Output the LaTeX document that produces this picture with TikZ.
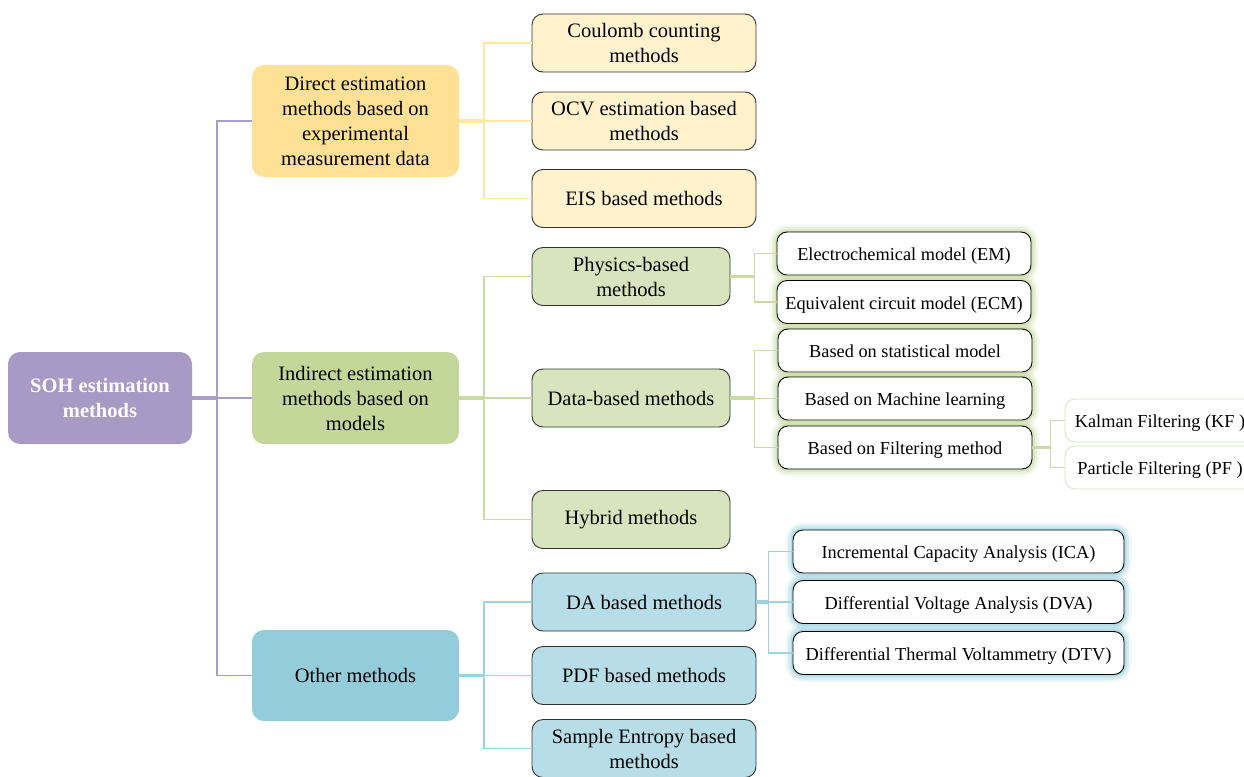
\documentclass[tikz,border=0pt]{standalone}
\usepackage{fontspec}
\setmainfont{Liberation Serif}
\definecolor{purpfill}{HTML}{A89AC4}
\definecolor{purpline}{HTML}{AA9DCA}
\definecolor{yelfill}{HTML}{FFE196}
\definecolor{yelline}{HTML}{FFE7A6}
\definecolor{yellight}{HTML}{FFF2CC}
\definecolor{grnfill}{HTML}{C4D79B}
\definecolor{grnline}{HTML}{C9DBA3}
\definecolor{grnlight}{HTML}{D8E4BD}
\definecolor{bluefill}{HTML}{93CDDC}
\definecolor{blueline}{HTML}{9DD3E0}
\definecolor{bluelight}{HTML}{B7DEE8}
\begin{document}
\begin{tikzpicture}[x=1pt,y=1pt,
  base/.style={align=center, inner sep=0pt, font=\fontsize{20.5}{25}\selectfont},
  lvlone/.style={base, rounded corners=12pt, minimum width=207pt, minimum height=92pt},
  lvltwo/.style={base, rounded corners=11pt, draw=black!80, line width=0.9pt, minimum height=58pt},
  lvlthree/.style={base, font=\fontsize{18.3}{22}\selectfont, rounded corners=10pt, draw=black, line width=0.9pt, minimum height=43pt, fill=white, text height=14.5pt, text depth=0pt},
  gglow/.style={preaction={draw=grnfill, line width=15pt, opacity=0.14}, preaction={draw=grnfill, line width=10pt, opacity=0.25}, preaction={draw=grnfill, line width=5pt, opacity=0.45}},
  bglow/.style={preaction={draw=bluefill, line width=15pt, opacity=0.14}, preaction={draw=bluefill, line width=10pt, opacity=0.25}, preaction={draw=bluefill, line width=5pt, opacity=0.45}},
  conn/.style={line width=1.8pt},
  stem/.style={line width=3.2pt},
]
\clip (0,0) rectangle (1244,-776);
\fill[white] (0,0) rectangle (1244,-776);

% level 0
\node[lvlone, fill=purpfill, minimum width=184pt, text=white, font=\fontsize{20.5}{25}\selectfont\bfseries] (soh) at (100,-398) {SOH estimation\\methods};

% level 1
\node[lvlone, fill=yelfill, minimum height=112pt] (direct) at (355.5,-121) {Direct estimation\\methods based on\\experimental\\measurement data};
\node[lvlone, fill=grnfill] (indirect) at (355.5,-398) {Indirect estimation\\methods based on\\models};
\node[lvlone, fill=bluefill, minimum height=91pt] (other) at (355.5,-675.5) {Other methods};

% level 2
\node[lvltwo, fill=yellight, minimum width=224pt] (coulomb) at (644,-43) {Coulomb counting\\methods};
\node[lvltwo, fill=yellight, minimum width=224pt] (ocv) at (644,-121) {OCV estimation based\\methods};
\node[lvltwo, fill=yellight, minimum width=224pt] (eis) at (644,-198.5) {EIS based methods};

\node[lvltwo, fill=grnlight, minimum width=198pt] (physics) at (631,-276.5) {Physics-based\\methods};
\node[lvltwo, fill=grnlight, minimum width=198pt] (data) at (631,-398) {Data-based methods};
\node[lvltwo, fill=grnlight, minimum width=198pt] (hybrid) at (631,-519.5) {Hybrid methods};

\node[lvltwo, fill=bluelight, minimum width=224pt] (da) at (644,-602) {DA based methods};
\node[lvltwo, fill=bluelight, minimum width=224pt] (pdf) at (644,-675.5) {PDF based methods};
\node[lvltwo, fill=bluelight, minimum width=224pt] (sampen) at (644,-748.5) {Sample Entropy based\\methods};

% level 3 (green)
\node[lvlthree, gglow, minimum width=254pt] (em) at (904,-253.5) {Electrochemical model (EM)};
\node[lvlthree, gglow, minimum width=254pt] (ecm) at (904,-302) {Equivalent circuit model (ECM)};
\node[lvlthree, gglow, minimum width=254pt] (stat) at (905,-350.5) {Based on statistical model};
\node[lvlthree, gglow, minimum width=254pt] (ml) at (905,-398.5) {Based on Machine learning};
\node[lvlthree, gglow, minimum width=254pt] (filt) at (905,-447.5) {Based on Filtering method};

% level 4
\node[lvlthree, draw=grnlight, line width=0.8pt, minimum width=190pt] (kf) at (1160,-420.5) {Kalman Filtering (KF )};
\node[lvlthree, draw=grnlight, line width=0.8pt, minimum width=190pt] (pf) at (1160,-467.5) {Particle Filtering (PF )};

% level 3 (blue)
\node[lvlthree, bglow, minimum width=331pt] (ica) at (958.5,-551.5) {Incremental Capacity Analysis (ICA)};
\node[lvlthree, bglow, minimum width=331pt] (dva) at (958.5,-602) {Differential Voltage Analysis (DVA)};
\node[lvlthree, bglow, minimum width=331pt] (dtv) at (958.5,-653) {Differential Thermal Voltammetry (DTV)};

% connectors: purple
\coordinate (pbus) at ([xshift=25pt]soh.east);
\draw[stem, purpline] (soh.east) -- (pbus);
\draw[conn, purpline] (pbus) -- (indirect.west);
\draw[conn, purpline] (pbus) |- (direct.west);
\draw[conn, purpline] (pbus) |- (other.west);

% yellow
\coordinate (ybus) at ([xshift=25pt]direct.east);
\draw[stem, yelline] (direct.east) -- (ybus);
\draw[conn, yelline] (ybus) -- (ocv.west);
\draw[conn, yelline] (ybus) |- (coulomb.west);
\draw[conn, yelline] (ybus) |- (eis.west);

% green
\coordinate (gbus) at ([xshift=25pt]indirect.east);
\draw[stem, grnline] (indirect.east) -- (gbus);
\draw[conn, grnline] (gbus) -- (data.west);
\draw[conn, grnline] (gbus) |- (physics.west);
\draw[conn, grnline] (gbus) |- (hybrid.west);

\coordinate (phbus) at ([xshift=24pt]physics.east);
\draw[stem, grnline] (physics.east) -- (phbus);
\draw[conn, grnline] (phbus) |- (em.west);
\draw[conn, grnline] (phbus) |- (ecm.west);

\coordinate (dbus) at ([xshift=24pt]data.east);
\draw[stem, grnline] (data.east) -- (dbus);
\draw[conn, grnline] (dbus) |- (ml.west);
\draw[conn, grnline] (dbus) |- (stat.west);
\draw[conn, grnline] (dbus) |- (filt.west);

\coordinate (fbus) at ([xshift=18pt]filt.east);
\draw[stem, grnline] (filt.east) -- (fbus);
\draw[conn, grnline] (fbus) |- (kf.west);
\draw[conn, grnline] (fbus) |- (pf.west);

% blue
\coordinate (bbus) at ([xshift=25pt]other.east);
\draw[stem, blueline] (other.east) -- (bbus);
\draw[conn, blueline] (bbus) -- (pdf.west);
\draw[conn, blueline] (bbus) |- (da.west);
\draw[conn, blueline] (bbus) |- (sampen.west);

\coordinate (dabus) at ([xshift=12pt]da.east);
\draw[stem, blueline] (da.east) -- (dabus);
\draw[conn, blueline] (dabus) -- (dva.west);
\draw[conn, blueline] (dabus) |- (ica.west);
\draw[conn, blueline] (dabus) |- (dtv.west);
\end{tikzpicture}
\end{document}
